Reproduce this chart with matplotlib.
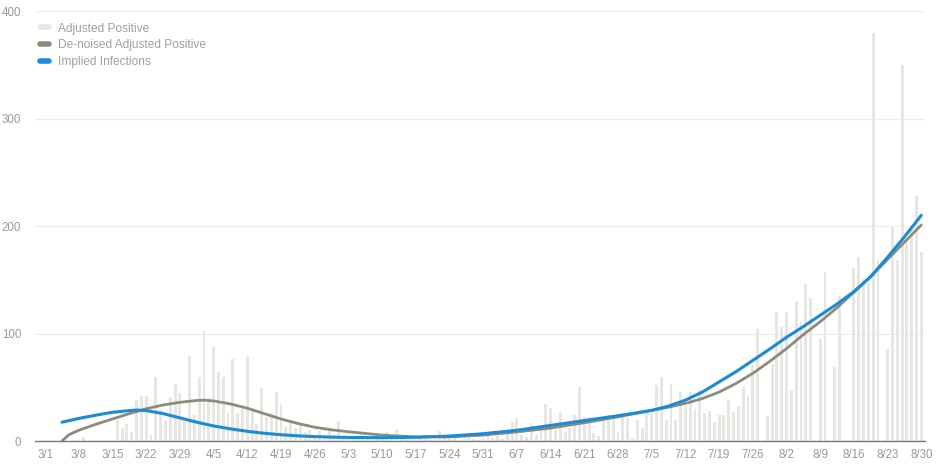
import matplotlib.pyplot as plt
from matplotlib.lines import Line2D

# Daily adjusted positives, 3/1 .. 8/30 (day 0 = 3/1)
adjusted_positive = [
    0, 0, 0, 0, 0, 0, 0, 0, 4, 0, 0, 0, 0, 0, 0,
    20, 12, 16, 8, 38, 42, 42, 6, 60, 29, 20, 41, 53, 45, 20,
    79, 24, 60, 102, 40, 87, 64, 60, 26, 76, 26, 30, 79, 28, 16,
    49, 22, 26, 46, 34, 13, 20, 12, 15, 8, 10, 6, 9, 4, 12,
    6, 19, 4, 3, 2, 4, 2, 3, 1, 5, 2, 8, 3, 11, 2,
    3, 2, 1, 3, 2, 1, 2, 9, 3, 2, 6, 1, 2, 3, 2,
    1, 2, 5, 3, 5, 2, 8, 18, 21, 6, 4, 15, 6, 12, 34,
    31, 10, 27, 8, 12, 24, 50, 22, 22, 7, 5, 20, 24, 22, 8,
    26, 21, 3, 20, 12, 26, 25, 52, 60, 20, 53, 20, 46, 33, 46,
    30, 47, 26, 28, 18, 24, 24, 38, 27, 33, 51, 42, 71, 104, 0,
    23, 72, 120, 106, 120, 47, 130, 111, 146, 133, 0, 95, 157, 0, 69,
    135, 0, 0, 161, 171, 151, 147, 380, 169, 0, 86, 199, 168, 350, 185,
    200, 228, 176,
]

# Smoothed curves, read at roughly half-week steps (day index, value)
denoised_days = [3.5, 5, 7, 10.5, 14, 17.5, 21, 24.5, 28, 31.5, 33, 35, 38.5, 42,
                 45.5, 49, 52.5, 56, 59.5, 63, 70, 77, 84, 91, 98, 105, 112, 119,
                 126, 129.5, 133, 136.5, 140, 143.5, 147, 150.5, 154, 157.5, 161,
                 164.5, 168, 171.5, 175, 178.5, 182]
denoised_vals = [0, 6, 10, 15.5, 20.5, 25.5, 30, 33.5, 36, 37.7, 38, 37.3, 34.5, 30.5,
                 25.5, 20.5, 16.3, 12.8, 10.4, 8.6, 5.5, 3.8, 3.8, 5.5, 8.5, 12, 17, 22.5,
                 28.5, 31.5, 35, 39.5, 45.5, 53.5, 63, 74, 86, 99, 111,
                 124, 138.5, 153, 169, 185, 201]

implied_days = [3.5, 7, 10.5, 14, 17.5, 19, 21, 24.5, 28, 31.5, 35, 38.5, 42, 45.5,
                49, 52.5, 56, 59.5, 63, 70, 77, 84, 91, 98, 105, 112, 119, 126,
                129.5, 133, 136.5, 140, 143.5, 147, 150.5, 154, 157.5, 161, 164.5,
                168, 171.5, 175, 178.5, 182]
implied_vals = [17.5, 21, 24, 26.7, 28.3, 28.8, 28.3, 25.5, 21.5, 17.5, 14, 11.3, 9, 7.2,
                5.8, 4.8, 4.1, 3.6, 3.3, 3.1, 3.5, 4.6, 6.8, 10, 14.5, 19, 23.5, 28.5,
                32.5, 38, 45.5, 55, 64.5, 75, 85.5, 96.5, 106.5, 117, 127.5,
                139, 153, 171, 190, 210]

tick_labels = ["3/1", "3/8", "3/15", "3/22", "3/29", "4/5", "4/12", "4/19", "4/26",
               "5/3", "5/10", "5/17", "5/24", "5/31", "6/7", "6/14", "6/21", "6/28",
               "7/5", "7/12", "7/19", "7/26", "8/2", "8/9", "8/16", "8/23", "8/30"]

bar_color = "#e6e6e3"
gray_line = "#8c8b7c"
blue_line = "#1b8bd6"
text_color = "#999999"

plt.rcParams["font.family"] = ["Liberation Sans", "DejaVu Sans"]

fig = plt.figure(figsize=(9.43, 4.65), dpi=100)
ax = fig.add_axes([0.0371, 0.0516, 0.944, 0.9247])

days = list(range(len(adjusted_positive)))
ax.bar(days, adjusted_positive, width=0.6, color=bar_color, zorder=2)
ax.plot(denoised_days, denoised_vals, color=gray_line, lw=2.0, zorder=3,
        solid_capstyle="round")
ax.plot(implied_days, implied_vals, color=blue_line, lw=2.2, zorder=4,
        solid_capstyle="round")

ax.set_xlim(-2.1, 182.8)
ax.set_ylim(0, 400)
ax.set_yticks([0, 100, 200, 300, 400])
ax.set_xticks([7 * i for i in range(len(tick_labels))])
ax.set_xticklabels(tick_labels)
ax.grid(axis="y", color="#ececec", lw=0.8, zorder=0)
ax.set_axisbelow(True)

for s in ["top", "right", "left"]:
    ax.spines[s].set_visible(False)
ax.spines["bottom"].set_color("#777777")
ax.spines["bottom"].set_linewidth(1.0)
ax.spines["bottom"].set_zorder(5)
ax.tick_params(axis="both", length=0, labelsize=8.3, colors=text_color)
ax.tick_params(axis="x", pad=6)
ax.tick_params(axis="y", pad=10)

handles = [
    Line2D([], [], color=bar_color, lw=4, solid_capstyle="round"),
    Line2D([], [], color=gray_line, lw=4, solid_capstyle="round"),
    Line2D([], [], color=blue_line, lw=4, solid_capstyle="round"),
]
leg = ax.legend(handles, ["Adjusted Positive", "De-noised Adjusted Positive", "Implied Infections"],
                loc="upper left", bbox_to_anchor=(-0.0065, 0.998), frameon=False,
                handlelength=0.75, handletextpad=0.75, labelspacing=0.4,
                fontsize=8.6, labelcolor="#a0a0a0")

fig.savefig("out.png", dpi=100)
